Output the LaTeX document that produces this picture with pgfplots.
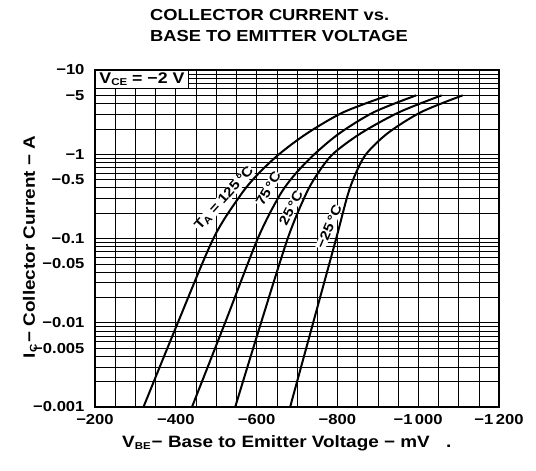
\documentclass[border=0pt]{standalone}
\usepackage{fontspec}
\setmainfont{Liberation Sans}[FakeStretch=1.15]
\usepackage{pgfplots}
\pgfplotsset{compat=1.18}
\newcommand{\sub}[1]{\raisebox{-0.25ex}{\fontsize{10}{10}\selectfont #1}}
\begin{document}
\begin{tikzpicture}
\useasboundingbox (-95bp,-64bp) rectangle (441bp,407bp);
\begin{axis}[
  scale only axis, width=404bp, height=337bp,
  xmin=200, xmax=1200, ymin=0.001, ymax=10, ymode=log,
  xtick={200,400,600,800,1000,1200},
  xticklabels={−200,−400,−600,−800,−1\,000,−1\,200},
  minor xtick={250,300,350,450,500,550,650,700,750,850,900,950,1050,1100,1150},
  ytick={0.001,0.01,0.1,1,10},
  yticklabels={−0.001,−0.01,−0.1,−1,−10},
  extra y ticks={0.005,0.05,0.5,5},
  extra y tick labels={−0.005,−0.05,−0.5,−5},
  extra y tick style={grid=major, major grid style={black, line width=0.6bp}},
  minor ytick={0.002,0.003,0.004,0.006,0.007,0.008,0.009,
               0.02,0.03,0.04,0.06,0.07,0.08,0.09,
               0.2,0.3,0.4,0.6,0.7,0.8,0.9,
               2,3,4,6,7,8,9},
  grid=both,
  major grid style={black, line width=1.1bp},
  minor grid style={black, line width=0.6bp},
  major tick length=0pt, minor tick length=0pt,
  axis line style={black, line width=1.3bp},
  tick label style={font=\bfseries\fontsize{14.5}{14.5}\selectfont},
  xticklabel style={yshift=-4bp},
  yticklabel style={xshift=-7bp},
  /pgf/number format/assume math mode=true,
  clip=true,
]
\addplot[black, line width=2bp, smooth, tension=0.5] coordinates {
 (320,0.001) (405,0.01) (493,0.1) (558,0.316) (600.5,0.562) (655.5,1) (725.5,1.778) (815.5,3.162) (926,5)};
\addplot[black, line width=2bp, smooth, tension=0.5] coordinates {
 (440,0.001) (522,0.01) (603,0.1) (655.5,0.316) (693,0.562) (743,1) (805.5,1.778) (890.5,3.162) (995,5)};
\addplot[black, line width=2bp, smooth, tension=0.5] coordinates {
 (547,0.001) (611,0.01) (677,0.1) (719.5,0.316) (748.3,0.562) (788.3,1) (858.3,1.778) (953.3,3.162) (1058,5)};
\addplot[black, line width=2bp, smooth, tension=0.5] coordinates {
 (683,0.001) (740,0.01) (797,0.1) (824.5,0.316) (843.3,0.562) (870.8,1) (924.5,1.778) (1007,3.162) (1110,5)};
\node[rotate=48, fill=white, inner sep=0.3bp, font=\bfseries\fontsize{13.5}{13.5}\selectfont] at (axis cs:520,0.30) {T\sub{A} = 125\,°C};
\node[rotate=60, fill=white, inner sep=0.3bp, font=\bfseries\fontsize{13.5}{13.5}\selectfont] at (axis cs:629,0.39) {75\,°C};
\node[rotate=63, fill=white, inner sep=0.3bp, font=\bfseries\fontsize{13.5}{13.5}\selectfont] at (axis cs:685,0.23) {25\,°C};
\node[rotate=67, fill=white, inner sep=0.3bp, font=\bfseries\fontsize{13.5}{13.5}\selectfont] at (axis cs:779,0.137) {−25\,°C};
\node[draw, fill=white, line width=1bp, anchor=north west, inner xsep=4bp, inner ysep=2.5bp, font=\bfseries\fontsize{15.5}{15.5}\selectfont] at (rel axis cs:0,1) {V\sub{CE} = −2 V};
\end{axis}
\node[anchor=north west, align=left, inner sep=0pt, font=\bfseries\fontsize{16}{21}\selectfont] at (55bp,398bp) {COLLECTOR CURRENT vs.\\BASE TO EMITTER VOLTAGE};
\node[anchor=base west, inner sep=0pt, font=\bfseries\fontsize{16.5}{16.5}\selectfont] at (27bp,-40bp) {V\sub{BE}\kern1bp− Base to Emitter Voltage − mV\quad .};
\node[rotate=90, anchor=center, inner sep=0pt, font=\bfseries\fontsize{16.5}{16.5}\selectfont] at (-65bp,160bp) {I\sub{C}\kern2bp− Collector Current − A};
\end{tikzpicture}
\end{document}
